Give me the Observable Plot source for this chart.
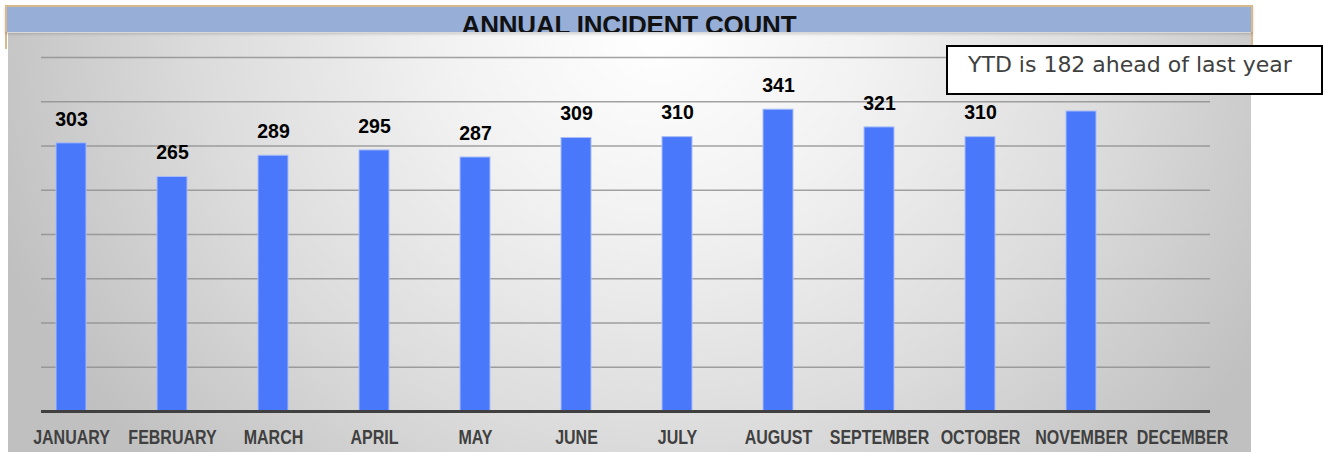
<!DOCTYPE html>
<html>
<head>
<meta charset="utf-8">
<script src="https://cdn.jsdelivr.net/npm/d3@7"></script>
<script src="https://cdn.jsdelivr.net/npm/@observablehq/plot@0.6"></script>
<style>
  html, body { margin: 0; padding: 0; background: #fff; }
  #wrap { position: relative; width: 1323px; height: 452px; overflow: hidden; background: #fff; }
  #bg {
    position: absolute; left: 8px; top: 33px; width: 1243px; height: 419px;
    background: radial-gradient(ellipse 700px 620px at 650px 0px, #ffffff 0%, #f2f2f2 30%, #dcdcdc 65%, #c0c0c0 100%);
  }
  #tanL, #tanR { position: absolute; top: 5px; width: 2px; height: 44px; background: #d6b98c; }
  #tanL { left: 5px; } #tanR { left: 1251px; }
  #titlebar {
    position: absolute; left: 5px; top: 5px; width: 1244px; height: 25px;
    background: #97aed6; border-top: 2px solid #d6b98c; border-left: 2px solid #d6b98c; border-right: 2px solid #d6b98c;
    overflow: hidden; box-shadow: 0 2px 3px rgba(0,0,0,0.18);
  }
  #titlebar h1 {
    margin: 0; padding-top: 5px; text-align: center; font: bold 26px/26px "Liberation Sans", Arial, sans-serif;
    color: #111; letter-spacing: -0.2px;
  }
  #chart { position: absolute; left: 0; top: 0; }
  #note {
    position: absolute; left: 946px; top: 45px; width: 377px; height: 50px; box-sizing: border-box;
    border: 2px solid #000; background: #fff; padding: 5px 0 0 20px;
    font: 22px/26px "DejaVu Sans", Verdana, sans-serif; color: #404040; white-space: nowrap;
  }
</style>
</head>
<body>
<div id="wrap">
  <div id="bg"></div>
  <div id="chart"></div>
  <div id="tanL"></div><div id="tanR"></div>
  <div id="titlebar"><h1>ANNUAL INCIDENT COUNT</h1></div>
  <div id="note">YTD is 182 ahead of last year</div>
</div>
<script>
const months = ["JANUARY", "FEBRUARY", "MARCH", "APRIL", "MAY", "JUNE", "JULY", "AUGUST", "SEPTEMBER", "OCTOBER", "NOVEMBER", "DECEMBER"];
const counts = [303, 265, 289, 295, 287, 309, 310, 341, 321, 310, 339, null];
const gridTicks = [50, 100, 150, 200, 250, 300, 350, 400];

const data = months.map((m, i) => ({month: m, count: counts[i]}));
const bars = data.filter(d => d.count != null);

const chart = Plot.plot({
  width: 1323,
  height: 452,
  marginLeft: 41,
  marginRight: 113,
  marginTop: 57,
  marginBottom: 41,
  style: {background: "transparent", fontFamily: "'Liberation Sans', Arial, sans-serif", overflow: "visible"},
  x: {domain: months, range: [18, 1236], paddingInner: 0.7, paddingOuter: 0.35, label: null},
  y: {domain: [0, 400], axis: null},
  marks: [
    Plot.ruleY(gridTicks, {stroke: "#8c8c8c", strokeOpacity: 0.8, strokeWidth: 1.5}),
    Plot.barY(bars, {x: "month", y: "count", fill: "#4a78fa", stroke: "#a9bdf6", strokeWidth: 1}),
    Plot.ruleY([0], {stroke: "#404040", strokeWidth: 3}),
    Plot.text(bars, {x: "month", y: "count", text: d => String(d.count), dy: -24,
      fontWeight: "bold", fontSize: 19.5, fill: "#000", fontFamily: "'Liberation Sans', Arial, sans-serif"}),
    Plot.axisX({tickSize: 0, tickPadding: 18, fontSize: 20, fontWeight: "bold", fill: "#404040",
      fontFamily: "'Liberation Sans', Arial, sans-serif", label: null})
  ]
});
// condense the month labels horizontally (narrow bold face, as in the reference)
d3.select(chart).selectAll('g[aria-label="x-axis tick label"] text').each(function () {
  const t = this.getAttribute("transform") || "";
  this.setAttribute("transform", t + " scale(0.8,1)");
});
document.getElementById("chart").appendChild(chart);
</script>
</body>
</html>
